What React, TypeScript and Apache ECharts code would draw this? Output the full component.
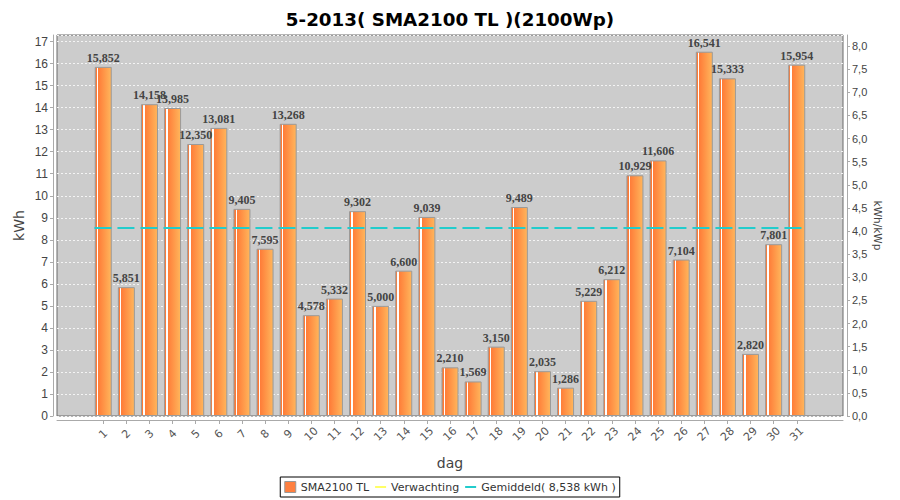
import React, { useEffect, useRef } from "react";
import * as echarts from "echarts";

const days: number[] = Array.from({ length: 31 }, (_, i) => i + 1);
const yields: number[] = [
  15.852, 5.851, 14.158, 13.985, 12.35, 13.081, 9.405, 7.595, 13.268, 4.578,
  5.332, 9.302, 5.0, 6.6, 9.039, 2.21, 1.569, 3.15, 9.489, 2.035,
  1.286, 5.229, 6.212, 10.929, 11.606, 7.104, 16.541, 15.333, 2.82, 7.801,
  15.954,
];
const average = 8.538;
const peakKWp = 2.1;
const leftMax = 17.3;
const xMin = -1;
const xMax = 33;

const fmt = (v: number, d: number) => v.toFixed(d).replace(".", ",");

export default function App() {
  const ref = useRef<HTMLDivElement>(null);
  useEffect(() => {
    if (!ref.current) return;
    const chart = echarts.init(ref.current, undefined, { renderer: "svg" });
    const barData = days.map((d, i) => [d, yields[i]]);
    const halfBar = 0.38;
    const avgData = [
      [days[0] - halfBar, average],
      [days[days.length - 1] + halfBar, average],
    ];
    const sans = "DejaVu Sans";
    const tickFont = "Liberation Sans";
    const lineIcon = "path://M0,5 L12,5 L12,7.2 L0,7.2 Z";
    chart.setOption({
      animation: false,
      backgroundColor: "#ffffff",
      title: {
        text: "5-2013( SMA2100 TL )(2100Wp)",
        left: "center",
        top: 5,
        textStyle: { fontFamily: sans, fontWeight: "bold", fontSize: 18.3, color: "#000" },
      },
      grid: {
        left: 57,
        right: 57,
        top: 35,
        bottom: 84,
        show: true,
        backgroundColor: "#cccccc",
        borderColor: "#6a6a6a",
        borderWidth: 1,
      },
      legend: {
        bottom: 3,
        left: "center",
        borderColor: "#000",
        borderWidth: 1,
        backgroundColor: "#fff",
        padding: [4, 4],
        itemGap: 6,
        itemWidth: 11,
        itemHeight: 11,
        textStyle: { fontFamily: sans, fontSize: 11, color: "#333" },
        data: [
          { name: "SMA2100 TL", icon: "rect", itemStyle: { color: "#ff8040", borderColor: "#999", borderWidth: 1 } },
          { name: "Verwachting", icon: lineIcon, itemStyle: { color: "#ffff66" } },
          { name: "Gemiddeld( 8,538 kWh )", icon: lineIcon, itemStyle: { color: "#22cccc" } },
        ],
      },
      xAxis: {
        type: "value",
        min: xMin,
        max: xMax,
        interval: 1,
        offset: 4,
        name: "dag",
        nameLocation: "middle",
        nameGap: 36,
        nameTextStyle: { fontFamily: sans, fontSize: 14, color: "#444" },
        axisLine: { show: true, onZero: false, lineStyle: { color: "#aaaaaa" } },
        axisTick: {
          show: true,
          length: 4,
          lineStyle: { color: "#aaaaaa" },
          customValues: days,
        },
        axisLabel: {
          customValues: days,
          rotate: 45,
          align: "center",
          verticalAlign: "middle",
          margin: 14,
          fontFamily: sans,
          fontSize: 11,
          color: "#555",
        },
        splitLine: { show: false },
      },
      yAxis: [
        {
          type: "value",
          min: 0,
          max: leftMax,
          interval: 1,
          offset: 4,
          name: "kWh",
          nameLocation: "middle",
          nameGap: 27,
          nameMoveOverlap: false,
          nameTextStyle: { fontFamily: sans, fontSize: 14, color: "#444" },
          axisLine: { show: true, onZero: false, lineStyle: { color: "#aaaaaa" } },
          axisTick: { show: true, length: 3, lineStyle: { color: "#aaaaaa" } },
          axisLabel: { showMaxLabel: false, fontFamily: tickFont, fontSize: 12, color: "#444", margin: 5 },
          splitLine: { lineStyle: { color: "#f4f4f4", type: [2, 2], width: 1 } },
        },
        {
          type: "value",
          position: "right",
          min: 0,
          max: leftMax / peakKWp,
          interval: 0.5,
          offset: 4,
          name: "kWh/kWp",
          nameLocation: "middle",
          nameRotate: -90,
          nameGap: 25,
          nameMoveOverlap: false,
          nameTextStyle: { fontFamily: sans, fontSize: 10.5, color: "#444" },
          axisLine: { show: true, onZero: false, lineStyle: { color: "#aaaaaa" } },
          axisTick: { show: true, length: 3, lineStyle: { color: "#aaaaaa" } },
          axisLabel: {
            showMaxLabel: false,
            fontFamily: tickFont,
            fontSize: 11,
            color: "#444",
            margin: 5,
            formatter: (v: number) => fmt(v, 1),
          },
          splitLine: { show: false },
        },
      ],
      series: [
        {
          name: "SMA2100 TL",
          type: "bar",
          yAxisIndex: 0,
          data: barData,
          barWidth: 17,
          itemStyle: {
            borderColor: "#9a9a9a",
            borderWidth: 1,
            color: new echarts.graphic.LinearGradient(0, 0, 1, 0, [
              { offset: 0, color: "#ff7a35" },
              { offset: 0.1, color: "#ff7a35" },
              { offset: 0.1, color: "#ffffff" },
              { offset: 0.19, color: "#ffffff" },
              { offset: 0.19, color: "#ff7c38" },
              { offset: 1, color: "#ffb65c" },
            ]),
          },
          label: {
            show: true,
            position: "top",
            distance: 3,
            fontFamily: "Liberation Serif",
            fontWeight: "bold",
            fontSize: 12,
            color: "#444",
            formatter: (p: any) => fmt(p.value[1] as number, 3),
          },
          z: 2,
        },
        {
          name: "Verwachting",
          type: "line",
          data: [],
          symbol: "none",
          lineStyle: { color: "#ffff66", width: 2 },
          itemStyle: { color: "#ffff66" },
        },
        {
          name: "Gemiddeld( 8,538 kWh )",
          type: "line",
          yAxisIndex: 0,
          data: avgData,
          symbol: "none",
          lineStyle: { color: "#22cccc", width: 2, type: [17, 6] },
          itemStyle: { color: "#22cccc" },
          z: 3,
        },
      ],
    });
    return () => chart.dispose();
  }, []);
  return (
    <div
      ref={ref}
      style={{ position: "fixed", left: 0, top: 0, width: 900, height: 500 }}
    />
  );
}
